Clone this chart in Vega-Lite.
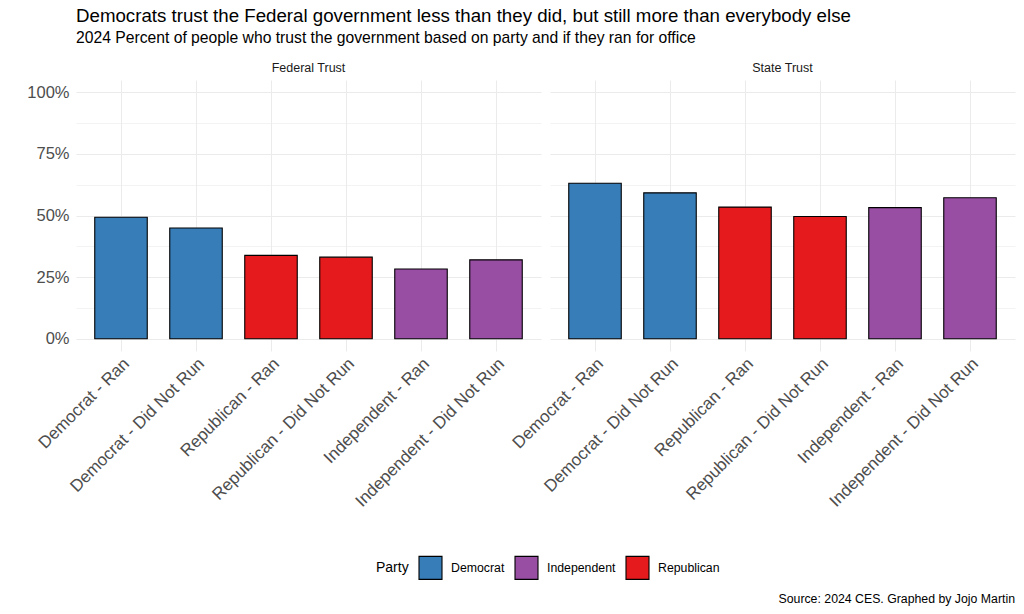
{
  "$schema": "https://vega.github.io/schema/vega-lite/v6.json",
  "background": "white",
  "padding": {"left": 26, "top": 7, "right": 8, "bottom": 10},
  "title": {
    "text": "Source: 2024 CES. Graphed by Jojo Martin",
    "orient": "bottom",
    "anchor": "end",
    "fontSize": 12.3,
    "fontWeight": "normal",
    "color": "black",
    "offset": 11
  },
  "vconcat": [
    {
      "title": {
        "text": "Democrats trust the Federal government less than they did, but still more than everybody else",
        "subtitle": "2024 Percent of people who trust the government based on party and if they ran for office",
        "anchor": "start",
        "frame": "group",
        "fontSize": 18.7,
        "fontWeight": "normal",
        "color": "black",
        "subtitleFontSize": 15.7,
        "subtitleColor": "black",
        "subtitlePadding": 5,
        "offset": 16
      },
      "data": {
        "values": [
          {"panel": "Federal Trust", "group": "Democrat - Ran", "Party": "Democrat", "trust": 49.3},
          {"panel": "Federal Trust", "group": "Democrat - Did Not Run", "Party": "Democrat", "trust": 44.9},
          {"panel": "Federal Trust", "group": "Republican - Ran", "Party": "Republican", "trust": 33.8},
          {"panel": "Federal Trust", "group": "Republican - Did Not Run", "Party": "Republican", "trust": 33.1},
          {"panel": "Federal Trust", "group": "Independent - Ran", "Party": "Independent", "trust": 28.3},
          {"panel": "Federal Trust", "group": "Independent - Did Not Run", "Party": "Independent", "trust": 32.0},
          {"panel": "State Trust", "group": "Democrat - Ran", "Party": "Democrat", "trust": 63.1},
          {"panel": "State Trust", "group": "Democrat - Did Not Run", "Party": "Democrat", "trust": 59.2},
          {"panel": "State Trust", "group": "Republican - Ran", "Party": "Republican", "trust": 53.4},
          {"panel": "State Trust", "group": "Republican - Did Not Run", "Party": "Republican", "trust": 49.6},
          {"panel": "State Trust", "group": "Independent - Ran", "Party": "Independent", "trust": 53.2},
          {"panel": "State Trust", "group": "Independent - Did Not Run", "Party": "Independent", "trust": 57.2}
        ]
      },
      "facet": {
        "column": {
          "field": "panel",
          "type": "nominal",
          "sort": ["Federal Trust", "State Trust"],
          "header": {
            "title": null,
            "labelFontSize": 12.5,
            "labelColor": "#1A1A1A",
            "labelPadding": 6
          }
        }
      },
      "spacing": 9,
      "spec": {
        "width": 465,
        "height": 271,
        "mark": {"type": "bar", "stroke": "black", "strokeWidth": 1.1},
        "encoding": {
          "x": {
            "field": "group",
            "type": "nominal",
            "sort": [
              "Democrat - Ran",
              "Democrat - Did Not Run",
              "Republican - Ran",
              "Republican - Did Not Run",
              "Independent - Ran",
              "Independent - Did Not Run"
            ],
            "scale": {"paddingInner": 0.3, "paddingOuter": 0.25},
            "axis": {
              "title": null,
              "labelAngle": -45,
              "labelAlign": "right",
              "labelBaseline": "top",
              "labelFontSize": 17,
              "labelColor": "#4D4D4D",
              "labelPadding": 4,
              "labelLimit": 0,
              "ticks": false,
              "domain": false,
              "grid": true,
              "bandPosition": 0.5
            }
          },
          "y": {
            "field": "trust",
            "type": "quantitative",
            "scale": {"domain": [-5, 105], "nice": false, "zero": false},
            "axis": {
              "title": null,
              "values": [0, 12.5, 25, 37.5, 50, 62.5, 75, 87.5, 100],
              "labelExpr": "datum.value % 25 == 0 ? datum.value + '%' : ''",
              "labelFontSize": 16.5,
              "labelColor": "#4D4D4D",
              "labelPadding": 7,
              "ticks": false,
              "domain": false,
              "grid": true,
              "gridWidth": {"condition": {"test": "datum.value % 25 == 0", "value": 1.1}, "value": 0.6}
            }
          },
          "color": {
            "field": "Party",
            "type": "nominal",
            "scale": {
              "domain": ["Democrat", "Independent", "Republican"],
              "range": ["#377EB8", "#984EA3", "#E41A1C"]
            },
            "legend": {
              "orient": "none",
              "direction": "horizontal",
              "legendX": 300,
              "legendY": 475,
              "titleOrient": "left",
              "titleFontSize": 14,
              "titleFontWeight": "normal",
              "titleColor": "black",
              "titleAnchor": "middle",
              "titlePadding": 9,
              "labelFontSize": 12.3,
              "labelColor": "black",
              "symbolType": "square",
              "symbolSize": 529,
              "symbolStrokeColor": "black",
              "symbolStrokeWidth": 1.1,
              "symbolOpacity": 1,
              "columnPadding": 7,
              "labelOffset": 8
            }
          }
        }
      }
    }
  ],
  "config": {
    "font": "Liberation Sans",
    "view": {"stroke": null},
    "axis": {"gridColor": "#EBEBEB"}
  }
}
